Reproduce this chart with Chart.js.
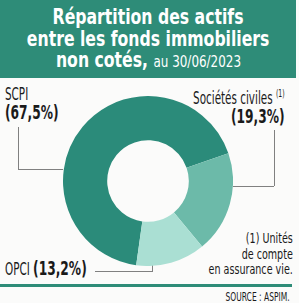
<!DOCTYPE html>
<html>
<head>
<meta charset="utf-8">
<script src="https://cdn.jsdelivr.net/npm/chart.js@4.4.0/dist/chart.umd.min.js"></script>
<style>
  body { margin: 0; width: 299px; height: 303px; background: #fbfbfa; position: relative; overflow: hidden;
         font-family: "Liberation Sans Narrow", "DejaVu Sans Condensed", sans-serif; color: #1a1a1a; }
  .header { position: absolute; left: 0; top: 0; width: 296px; height: 78px; background: #2e8c78; color: #fff;
            text-align: center; font-weight: bold; font-size: 21px; line-height: 21.5px; padding-top: 7px; box-sizing: border-box; }
  .header .t { display: inline-block; transform: scaleX(0.83); transform-origin: center; white-space: nowrap; }
  .header .small { font-weight: normal; font-size: 16px; }
  .lbl { position: absolute; font-size: 17px; line-height: 18px; white-space: nowrap; transform: scaleX(0.68); }
  .lbl.l { transform-origin: left top; }
  .lbl.r { transform-origin: right top; text-align: right; }
  .lbl b { font-size: 20px; }
  .note { position: absolute; right: 6px; top: 231px; font-size: 14px; line-height: 15.5px; text-align: right;
          white-space: nowrap; transform: scaleX(0.76); transform-origin: right top; }
  .line { position: absolute; background: #808080; }
  #chartBox { position: absolute; left: 63px; top: 96px; width: 170px; height: 170px; }
  .rule { position: absolute; left: 0; top: 284px; width: 292px; height: 3px; background: #2e8c78; }
  .source { position: absolute; right: 9px; top: 290px; font-size: 12px; white-space: nowrap;
            transform: scaleX(0.7); transform-origin: right top; }
</style>
</head>
<body>
<div class="header">
  <span class="t">Répartition des actifs</span><br>
  <span class="t">entre les fonds immobiliers</span><br>
  <span class="t">non cotés, <span class="small">au 30/06/2023</span></span>
</div>

<div class="lbl l" style="left:5px; top:85px;">SCPI<br><b>(67,5%)</b></div>
<div class="line" style="left:18px; top:127px; width:1px; height:42px;"></div>
<div class="line" style="left:18px; top:169px; width:45px; height:1px;"></div>

<div class="lbl r" style="right:14px; top:85px;">Sociétés civiles <sup style="font-size:10px;">(1)</sup><br><b>(19,3%)</b></div>
<div class="line" style="left:274px; top:130px; width:1px; height:56px;"></div>
<div class="line" style="left:233px; top:186px; width:41px; height:1px;"></div>

<div class="lbl l" style="left:5px; top:259px;">OPCI <b>(13,2%)</b></div>
<div class="line" style="left:95px; top:271px; width:58px; height:1px;"></div>
<div class="line" style="left:152px; top:260px; width:1px; height:11px;"></div>

<div class="note">(1) Unités<br>de compte<br>en assurance vie.</div>

<div id="chartBox"><canvas id="donut" width="170" height="170"></canvas></div>
<div class="rule"></div>
<div class="source">SOURCE : ASPIM.</div>

<script>
// Répartition des actifs (%)
const categories = ['SCPI', 'Sociétés civiles', 'OPCI'];
const shares = [67.5, 19.3, 13.2];
const sliceColors = ['#2b8b7a', '#6cbaa9', '#aadfd3'];

new Chart(document.getElementById('donut'), {
    type: 'doughnut',
    data: {
        labels: categories,
        datasets: [{
            data: shares,
            backgroundColor: sliceColors,
            borderWidth: 0
        }]
    },
    options: {
        responsive: false,
        animation: false,
        cutout: '48%',
        rotation: 188,
        layout: { padding: 0 },
        plugins: {
            legend: { display: false },
            tooltip: { enabled: false }
        }
    }
});
</script>
</body>
</html>
